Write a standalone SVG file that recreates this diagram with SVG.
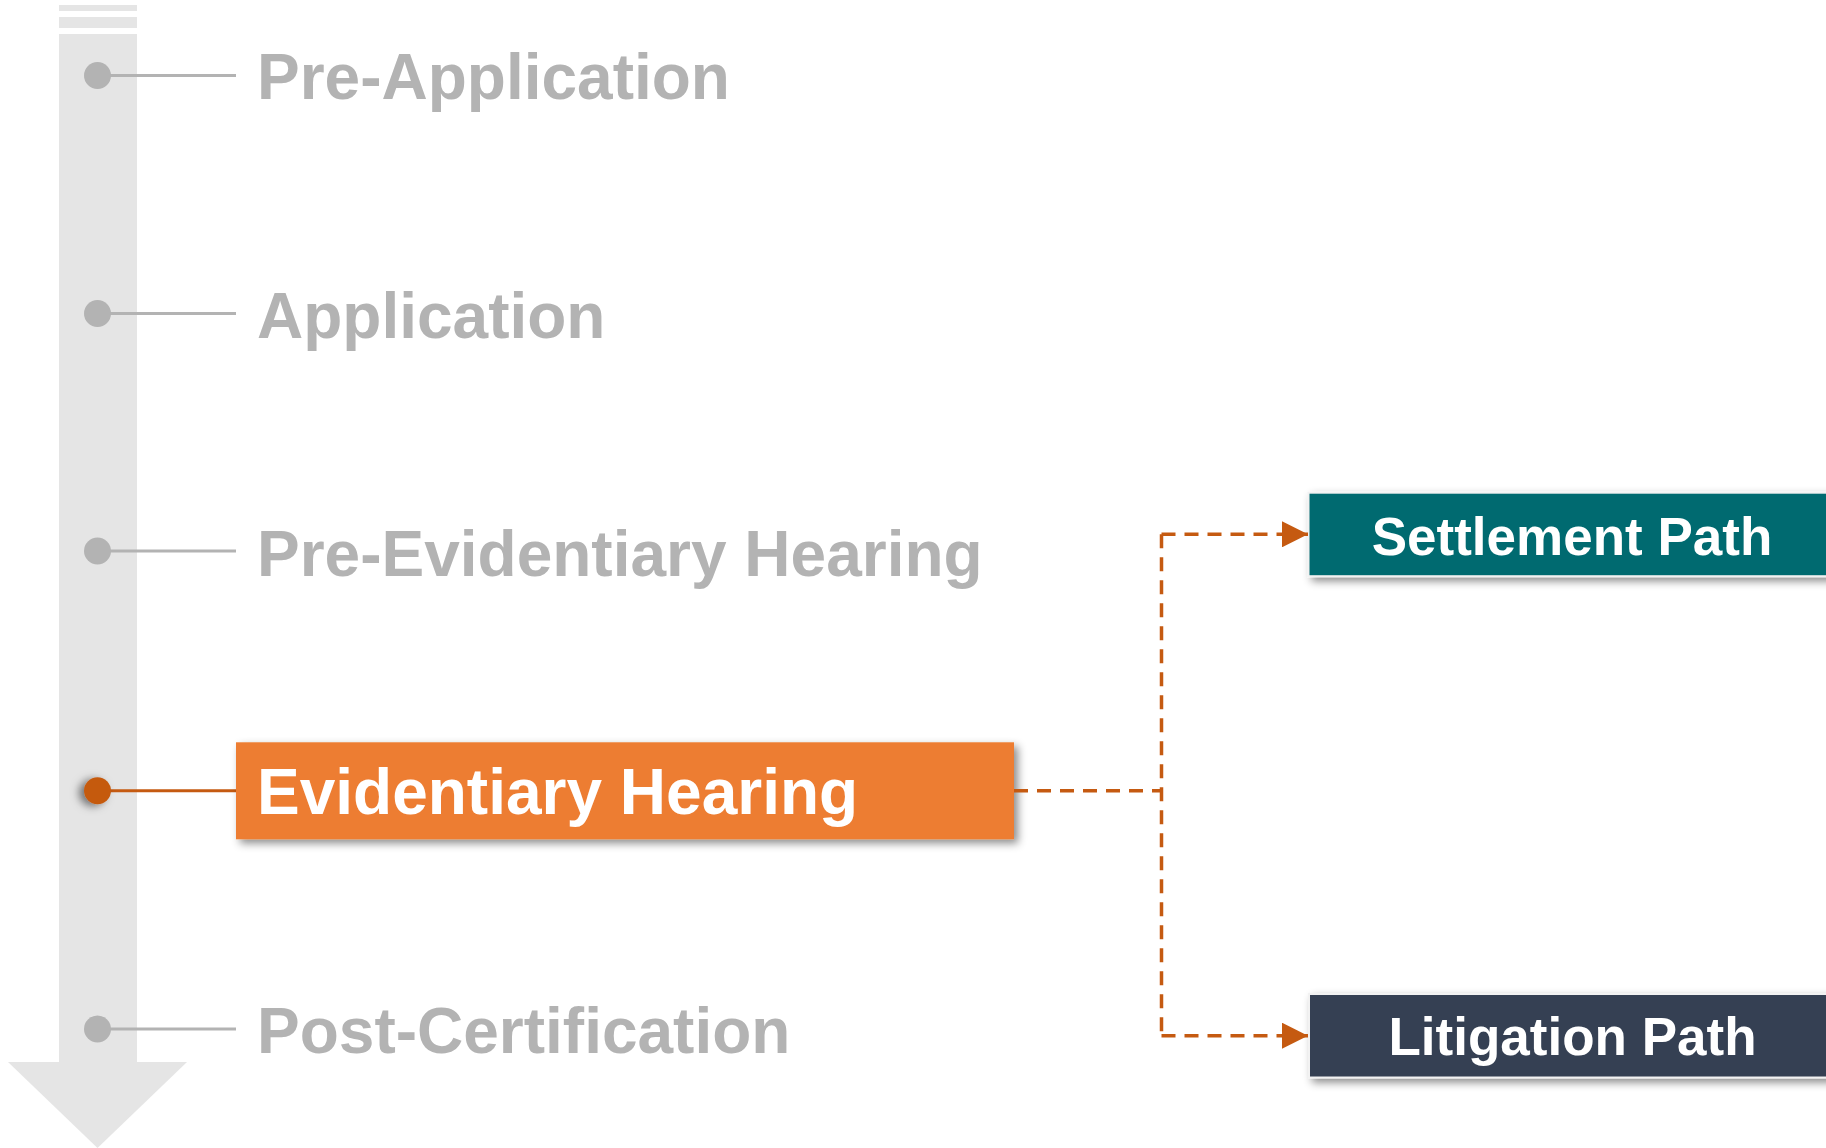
<svg xmlns="http://www.w3.org/2000/svg" width="1826" height="1148" viewBox="0 0 1826 1148">
  <style>
    .lbl { font-family: "Liberation Sans", Arial, sans-serif; font-weight: bold; font-size: 64px; fill: #B3B3B3; }
    .wlbl { font-family: "Liberation Sans", Arial, sans-serif; font-weight: bold; fill: #FFFFFF; }
    .tick { stroke: #B3B3B3; stroke-width: 3; fill: none; }
    .dot { fill: #B3B3B3; }
    .dash { stroke: #C55A11; stroke-width: 3.5; fill: none; stroke-dasharray: 14 9; }
  </style>
  <defs>
    <filter id="shadow" x="-10%" y="-30%" width="120%" height="160%">
      <feDropShadow dx="4" dy="4" stdDeviation="4" flood-color="#000" flood-opacity="0.45"/>
    </filter>
    <filter id="dotShadow" x="-100%" y="-100%" width="300%" height="300%">
      <feDropShadow dx="-5" dy="2" stdDeviation="4" flood-color="#000" flood-opacity="0.5"/>
    </filter>
    <marker id="arrow" markerWidth="26" markerHeight="26" viewBox="0 0 26 26" refX="26" refY="13" orient="auto" markerUnits="userSpaceOnUse">
      <path d="M0,0 L26,13 L0,26 Z" fill="#C55A11"/>
    </marker>
  </defs>

  <g id="timeline">
    <rect x="59" y="5" width="78" height="6" fill="#E5E5E5"/>
    <rect x="59" y="17" width="78" height="11" fill="#E5E5E5"/>
    <rect x="59" y="34" width="78" height="1028" fill="#E5E5E5"/>
    <polygon points="8,1062 187,1062 97.5,1148" fill="#E5E5E5"/>
  </g>

  <g id="pre-application">
    <line class="tick" x1="97" y1="75.5" x2="236" y2="75.5"/>
    <circle class="dot" cx="97.5" cy="75.5" r="13.5"/>
    <text class="lbl" x="257" y="99">Pre-Application</text>
  </g>

  <g id="application">
    <line class="tick" x1="97" y1="313.5" x2="236" y2="313.5"/>
    <circle class="dot" cx="97.5" cy="313.5" r="13.5"/>
    <text class="lbl" x="257" y="337.5">Application</text>
  </g>

  <g id="pre-evidentiary-hearing">
    <line class="tick" x1="97" y1="551" x2="236" y2="551"/>
    <circle class="dot" cx="97.5" cy="551" r="13.5"/>
    <text class="lbl" x="257" y="576">Pre-Evidentiary Hearing</text>
  </g>

  <g id="evidentiary-hearing">
    <line x1="97" y1="790.7" x2="236" y2="790.7" stroke="#C55A11" stroke-width="3"/>
    <circle cx="97.5" cy="790.7" r="13.5" fill="#C55A11" filter="url(#dotShadow)"/>
    <rect x="236" y="742.3" width="778" height="97" fill="#ED7D31" filter="url(#shadow)"/>
    <text class="wlbl" x="257" y="814" font-size="64">Evidentiary Hearing</text>
  </g>

  <g id="post-certification">
    <line class="tick" x1="97" y1="1029" x2="236" y2="1029"/>
    <circle class="dot" cx="97.5" cy="1029" r="13.5"/>
    <text class="lbl" x="257" y="1053">Post-Certification</text>
  </g>

  <g id="settlement-path">
    <rect x="1308.5" y="492.7" width="530" height="83.5" fill="#026A70" stroke="#F2F2F2" stroke-width="2" filter="url(#shadow)"/>
    <text class="wlbl" x="1572" y="555" font-size="53" text-anchor="middle">Settlement Path</text>
  </g>

  <g id="litigation-path">
    <rect x="1309" y="994" width="530" height="83.5" fill="#353F52" stroke="#F2F2F2" stroke-width="2" filter="url(#shadow)"/>
    <text class="wlbl" x="1572.5" y="1055" font-size="53" text-anchor="middle">Litigation Path</text>
  </g>

  <g id="connectors">
    <path class="dash" d="M1014,790.7 H1161.5"/>
    <path class="dash" d="M1161.5,534.3 V1035.7"/>
    <path class="dash" d="M1161.5,534.3 H1308" marker-end="url(#arrow)"/>
    <path class="dash" d="M1161.5,1035.7 H1308" marker-end="url(#arrow)"/>
  </g>
</svg>
